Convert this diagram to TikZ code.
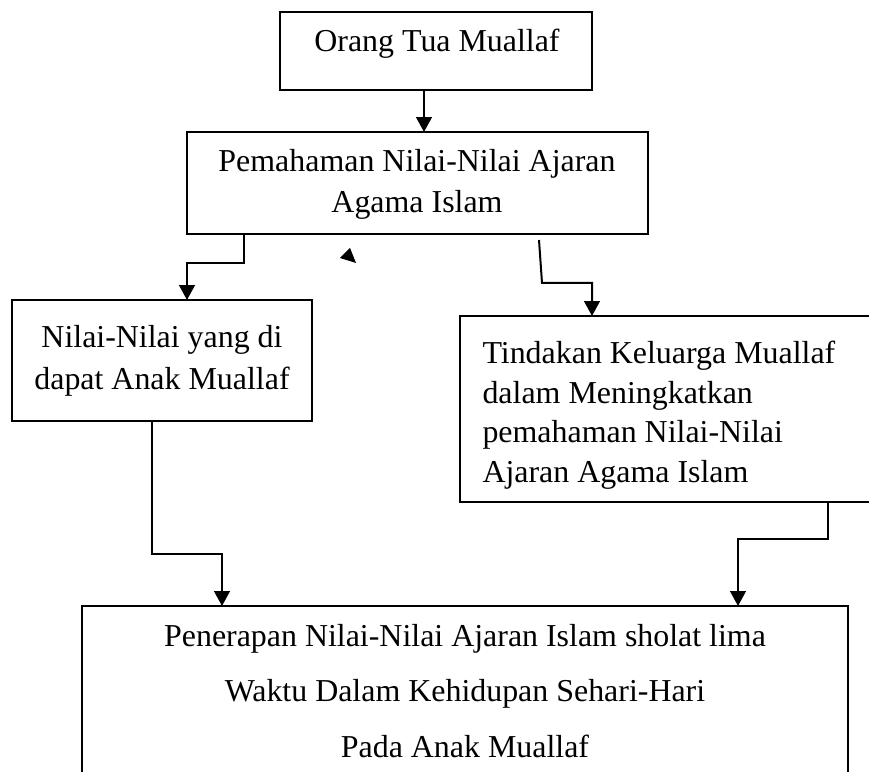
\documentclass[tikz,border=0pt]{standalone}
\usepackage{fontspec}
\setmainfont{Liberation Serif}
\usetikzlibrary{arrows.meta,calc,fit}
\tikzset{
  box/.style={draw, line width=0.7pt, inner sep=0pt, outer sep=0pt},
  txt/.style={inner sep=0pt, font=\fontsize{12}{14}\selectfont},
  conn/.style={line width=0.75pt, -{Triangle[width=5.9pt,length=5.6pt]}},
}
\begin{document}
\begin{tikzpicture}[x=0.376pt,y=-0.376pt]
\useasboundingbox (0,0) rectangle (869,772);
\clip (0,0) rectangle (869,772);
% box corners
\coordinate (b1a) at (280,12);  \coordinate (b1b) at (592,90);
\coordinate (b2a) at (187,132); \coordinate (b2b) at (648,234);
\coordinate (b3a) at (12,300);  \coordinate (b3b) at (312,421);
\coordinate (b4a) at (460,316); \coordinate (b4b) at (900,502);
\coordinate (b5a) at (82,606);  \coordinate (b5b) at (848,820);
\node[box, fit=(b1a)(b1b)] (b1) {};
\node[box, fit=(b2a)(b2b)] (b2) {};
\node[box, fit=(b3a)(b3b)] (b3) {};
\node[box, fit=(b4a)(b4b)] (b4) {};
\node[box, fit=(b5a)(b5b)] (b5) {};
% texts
\node[txt, anchor=base] (t1) at (437,52) {Orang Tua Muallaf};
\node[txt, anchor=base] (t2a) at (417,172) {Pemahaman Nilai-Nilai Ajaran};
\node[txt, anchor=base] (t2b) at (417,213) {Agama Islam};
\node[txt, anchor=base] (t3a) at (162,348) {Nilai-Nilai yang di};
\node[txt, anchor=base] (t3b) at (162,390) {dapat Anak Muallaf};
\node[txt, anchor=base west] (t4a) at (482,364) {Tindakan Keluarga Muallaf};
\node[txt, anchor=base west] (t4b) at (482,404) {dalam Meningkatkan};
\node[txt, anchor=base west] (t4c) at (482,443) {pemahaman Nilai-Nilai};
\node[txt, anchor=base west] (t4d) at (482,483) {Ajaran Agama Islam};
\node[txt, anchor=base] (t5a) at (465,647) {Penerapan Nilai-Nilai Ajaran Islam sholat lima};
\node[txt, anchor=base] (t5b) at (465,702) {Waktu Dalam Kehidupan Sehari-Hari};
\node[txt, anchor=base] (t5c) at (465,757) {Pada Anak Muallaf};
% connectors
\draw[conn] ($(b1.south west)+(144,0)$) -- ($(b2.north west)+(237,0)$);
\draw[conn] ($(b2.south west)+(57,0)$) -- ++(0,29) -| ($(b3.north west)+(175,0)$);
\draw[conn] ($(b2.south west)+(352,6)$) -- ++(3,43) -| ($(b4.north west)+(132,0)$);
\draw[conn] ($(b3.south west)+(140,0)$) -- ++(0,133) -| ($(b5.north west)+(140,0)$);
\draw[conn] ($(b4.south west)+(368,0)$) -- ++(0,37) -| ($(b5.north west)+(656,0)$);
% stray arrowhead
\fill (340,258) -- (350,248) -- (356,263) -- cycle;
\end{tikzpicture}
\end{document}
